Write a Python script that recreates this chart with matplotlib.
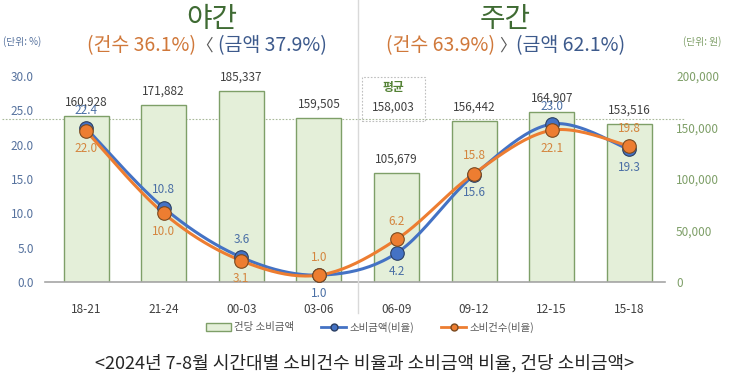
import numpy as np
import matplotlib
matplotlib.use('Agg')
import matplotlib.pyplot as plt
from matplotlib.patches import Patch, Rectangle
from matplotlib.lines import Line2D

plt.rcParams['font.family'] = ['Noto Sans CJK KR', 'DejaVu Sans']

# data
slots = ['18-21', '21-24', '00-03', '03-06', '06-09', '09-12', '12-15', '15-18']
per_case = [160928, 171882, 185337, 159505, 105679, 156442, 164907, 153516]
amount_ratio = [22.4, 10.8, 3.6, 1.0, 4.2, 15.6, 23.0, 19.3]
count_ratio = [22.0, 10.0, 3.1, 1.0, 6.2, 15.8, 22.1, 19.8]
avg_per_case = 158003
# label side for line values (1 = above, -1 = below)
amount_side = [1, 1, 1, -1, -1, -1, 1, -1]
count_side = [-1, -1, -1, 1, 1, 1, -1, 1]

BLUE = '#4472C4'
ORANGE = '#ED7D31'
BAR_FACE = '#E4EFD9'
BAR_EDGE = '#7E9F68'
GREEN_TXT = '#3F6B33'


def smooth(x, y, n=24):
    # catmull-rom curve through the points (drawing only)
    p = np.column_stack([x, y]).astype(float)
    p = np.vstack([p[0], p, p[-1]])
    segs = []
    t = np.linspace(0, 1, n)[:, None]
    for i in range(1, len(p) - 2):
        p0, p1, p2, p3 = p[i - 1], p[i], p[i + 1], p[i + 2]
        seg = 0.5 * ((2 * p1) + (-p0 + p2) * t + (2 * p0 - 5 * p1 + 4 * p2 - p3) * t ** 2
                     + (-p0 + 3 * p1 - 3 * p2 + p3) * t ** 3)
        segs.append(seg)
    s = np.vstack(segs)
    return s[:, 0], s[:, 1]


fig = plt.figure(figsize=(7.3, 3.88), dpi=100)
ax = fig.add_axes([45 / 730, 106 / 388, 620 / 730, 206 / 388])
x = np.arange(len(slots))

# bars (right scale)
ax.bar(x, per_case, width=0.58, color=BAR_FACE, edgecolor=BAR_EDGE, linewidth=1.0, zorder=2)
ax.set_ylim(0, 200000)
ax.set_xlim(-0.53, 7.46)
for xi, v in zip(x, per_case):
    ax.annotate('{:,}'.format(v), (xi, v), xytext=(0, 14), textcoords='offset pixels',
                ha='center', va='center', fontsize=8.5, color='#404040', zorder=5)

for s in ['top', 'right', 'left']:
    ax.spines[s].set_visible(False)
ax.spines['bottom'].set_color('#A6A6A6')
ax.spines['bottom'].set_linewidth(1.2)
ax.set_xticks(x)
ax.set_xticklabels(slots)
ax.tick_params(axis='x', length=0, labelsize=8.5, labelcolor='#404040', pad=15)

# average line
ax.axhline(avg_per_case, xmin=-0.07, xmax=1.03, color='#A9B99A', linestyle=(0, (1.5, 1.5)),
           linewidth=0.8, clip_on=False, zorder=1)

# lines (left scale)
ax2 = ax.twinx()
ax2.set_ylim(0, 30)
ax2.set_xlim(ax.get_xlim())

ax.yaxis.tick_right()
ax.set_yticks(np.arange(0, 200001, 50000))
ax.set_yticklabels(['0', '50,000', '100,000', '150,000', '200,000'])
ax.tick_params(axis='y', length=0, labelsize=8.5, labelcolor='#7E9F68', pad=8)

ax2.yaxis.tick_left()
ax2.set_yticks(np.arange(0, 31, 5))
ax2.set_yticklabels(['{:.1f}'.format(v) for v in np.arange(0, 31, 5)])
ax2.tick_params(axis='y', length=0, labelsize=8.5, labelcolor='#56729E', pad=8)
for s in ax2.spines.values():
    s.set_visible(False)

sx, sy = smooth(x, amount_ratio)
ax2.plot(sx, sy, color=BLUE, linewidth=2.2, zorder=3)
sx, sy = smooth(x, count_ratio)
ax2.plot(sx, sy, color=ORANGE, linewidth=2.2, zorder=3)
ax2.scatter(x, amount_ratio, s=95, color=BLUE, edgecolors='#2B3F63', linewidths=0.8, zorder=4)
ax2.scatter(x, count_ratio, s=95, color=ORANGE, edgecolors='#7A4A20', linewidths=0.8, zorder=5)

for xi, v, sd in zip(x, amount_ratio, amount_side):
    ax2.annotate('{:.1f}'.format(v), (xi, v), xytext=(0, 18 * sd), textcoords='offset pixels',
                 ha='center', va='center', fontsize=8.5, color='#4A6FA5', zorder=6)
for xi, v, sd in zip(x, count_ratio, count_side):
    ax2.annotate('{:.1f}'.format(v), (xi, v), xytext=(0, 18 * sd), textcoords='offset pixels',
                 ha='center', va='center', fontsize=8.5, color='#D4853E', zorder=6)

# divider night / day
ax2.axvline(3.5, ymin=-0.15, ymax=1.37, color='#D9D9D9', linewidth=1.0, clip_on=False, zorder=1)

# average box
box = Rectangle((362 / 730, 1 - 121 / 388), 63 / 730, 44 / 388, transform=fig.transFigure,
                fill=False, edgecolor='#BFBFBF', linestyle=(0, (1.5, 1.5)), linewidth=0.8)
fig.patches.append(box)
fig.text(393 / 730, 1 - 88 / 388, '평균', ha='center', va='center', fontsize=8.5,
         color='#548235', fontweight='bold')
fig.text(393 / 730, 1 - 107 / 388, '{:,}'.format(avg_per_case), ha='center', va='center',
         fontsize=8.5, color='#404040')

# titles
fig.text(212 / 730, 1 - 19 / 388, '야간', ha='center', va='center', fontsize=20, color=GREEN_TXT)
fig.text(505 / 730, 1 - 19 / 388, '주간', ha='center', va='center', fontsize=20, color=GREEN_TXT)
fig.text(196 / 730, 1 - 46 / 388, '(건수 36.1%)', ha='right', va='center', fontsize=14, color='#D0783A')
fig.text(213 / 730, 1 - 46 / 388, '〈', ha='right', va='center', fontsize=12, color='#595959')
fig.text(218 / 730, 1 - 46 / 388, '(금액 37.9%)', ha='left', va='center', fontsize=14, color='#3D5A8C')
fig.text(495 / 730, 1 - 46 / 388, '(건수 63.9%)', ha='right', va='center', fontsize=14, color='#D0783A')
fig.text(499 / 730, 1 - 46 / 388, '〉', ha='left', va='center', fontsize=12, color='#595959')
fig.text(516 / 730, 1 - 46 / 388, '(금액 62.1%)', ha='left', va='center', fontsize=14, color='#3D5A8C')

fig.text(22 / 730, 1 - 42 / 388, '(단위: %)', ha='center', va='center', fontsize=7, color='#56729E')
fig.text(702 / 730, 1 - 42 / 388, '(단위: 원)', ha='center', va='center', fontsize=7, color='#7E9F68')

# legend
handles = [Patch(facecolor=BAR_FACE, edgecolor=BAR_EDGE, label='건당 소비금액'),
           Line2D([0], [0], color=BLUE, marker='o', markersize=5, markeredgecolor='#2B3F63',
                  linewidth=2, label='소비금액(비율)'),
           Line2D([0], [0], color=ORANGE, marker='o', markersize=5, markeredgecolor='#7A4A20',
                  linewidth=2, label='소비건수(비율)')]
fig.legend(handles=handles, loc='center', bbox_to_anchor=(370 / 730, 1 - 327 / 388), ncol=3,
           frameon=False, fontsize=7.5, handlelength=2.4, handleheight=0.8, columnspacing=2.6,
           handletextpad=0.3, labelcolor='#595959')

fig.text(365 / 730, 1 - 363 / 388, '<2024년 7-8월 시간대별 소비건수 비율과 소비금액 비율, 건당 소비금액>',
         ha='center', va='center', fontsize=13, color='#262626')

fig.savefig('out.png', dpi=100)
